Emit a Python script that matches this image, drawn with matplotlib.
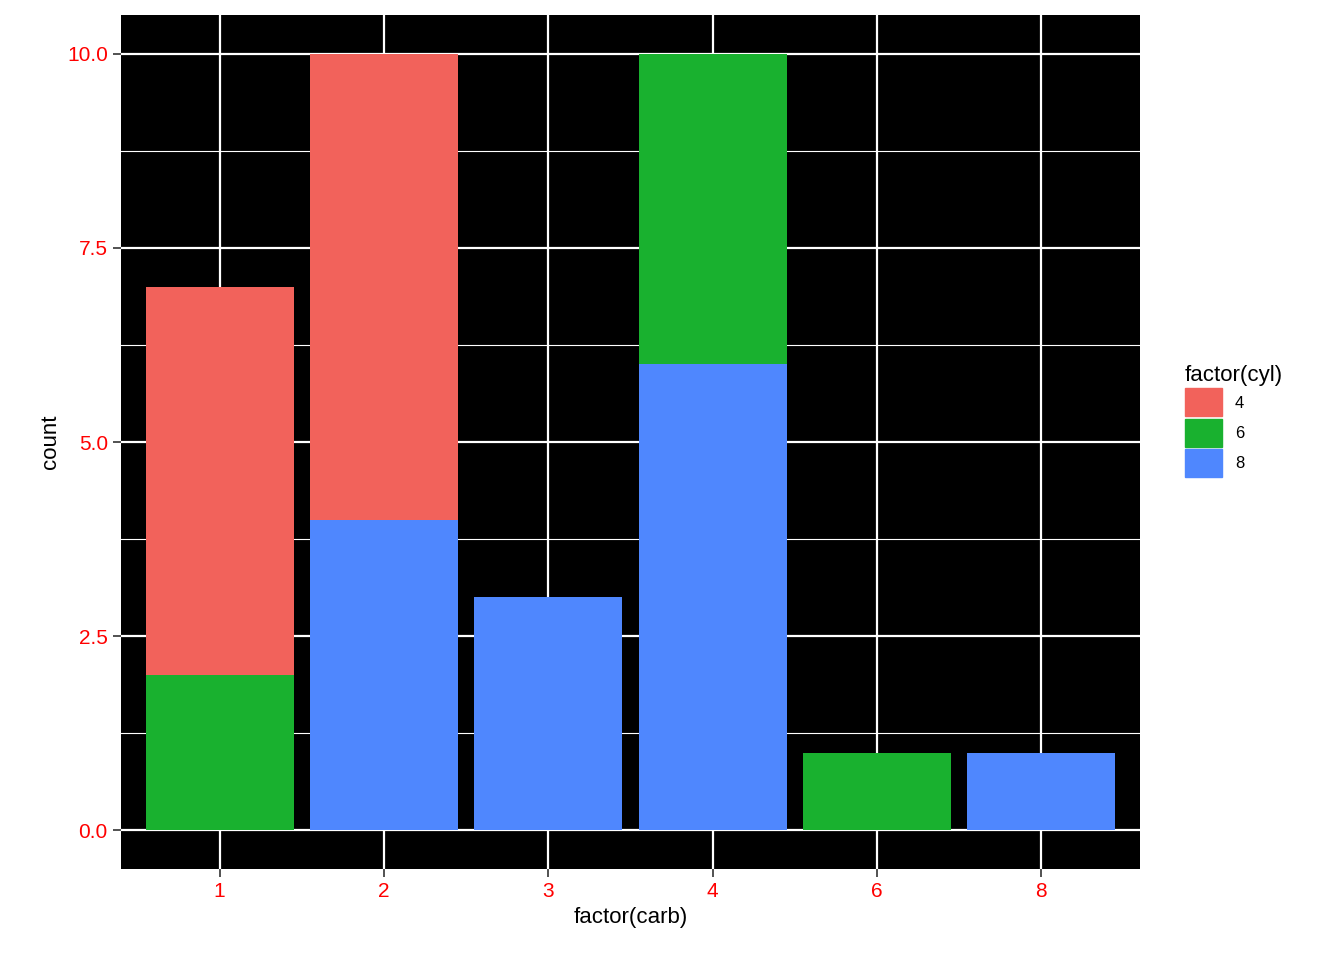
import matplotlib
matplotlib.use("Agg")
import matplotlib.pyplot as plt
from matplotlib.patches import Patch
import numpy as np

carb = ["1", "2", "3", "4", "6", "8"]
cyl4 = [5, 6, 0, 0, 0, 0]
cyl6 = [2, 0, 0, 4, 1, 0]
cyl8 = [0, 4, 3, 6, 0, 1]
colors = {"4": "#F8766D", "6": "#00BA38", "8": "#619CFF"}
colors = {"4": "#F2625B", "6": "#19B12F", "8": "#4F87FE"}

plt.rcParams['font.family'] = ['Liberation Sans', 'DejaVu Sans']
fig = plt.figure(figsize=(13.44, 9.6), dpi=100)
ax = fig.add_axes([121/1344, 1-869/960, (1140-121)/1344, (869-15)/960])
ax.set_facecolor("black")
x = np.arange(1, len(carb)+1)
b8 = np.array(cyl8); b6 = np.array(cyl6); b4 = np.array(cyl4)
ax.bar(x, b8, 0.9, color=colors["8"], zorder=3)
ax.bar(x, b6, 0.9, bottom=b8, color=colors["6"], zorder=3)
ax.bar(x, b4, 0.9, bottom=b8+b6, color=colors["4"], zorder=3)
ax.set_xlim(0.4, 6.6)
ax.set_ylim(-0.5, 10.5)
ax.set_xticks(x)
ax.set_xticklabels(carb)
ax.set_yticks([0, 2.5, 5, 7.5, 10])
ax.set_yticklabels(["0.0", "2.5", "5.0", "7.5", "10.0"])
ax.set_yticks([1.25, 3.75, 6.25, 8.75], minor=True)
ax.grid(which="major", color="white", lw=1.6, zorder=1)
ax.grid(which="minor", axis="y", color="white", lw=0.8, zorder=1)
for s in ax.spines.values():
    s.set_visible(False)
ax.tick_params(axis="both", which="major", colors="#333333", labelcolor="red", labelsize=15, length=6, width=1.2)
ax.tick_params(which="minor", length=0)
ax.set_xlabel("factor(carb)", fontsize=16)
ax.set_ylabel("count", fontsize=16)
handles = [Patch(color=colors[k], label=k) for k in ["4", "6", "8"]]
leg = fig.legend(handles=handles, title="factor(cyl)", loc="upper left",
                 bbox_to_anchor=(1170/1344, 1-350/960), frameon=False,
                 fontsize=12, title_fontsize=16, handlelength=2.2, handleheight=2.2,
                 handletextpad=0.8, labelspacing=0.15)
leg._legend_box.align = "left"
fig.savefig("out.png", dpi=100)
